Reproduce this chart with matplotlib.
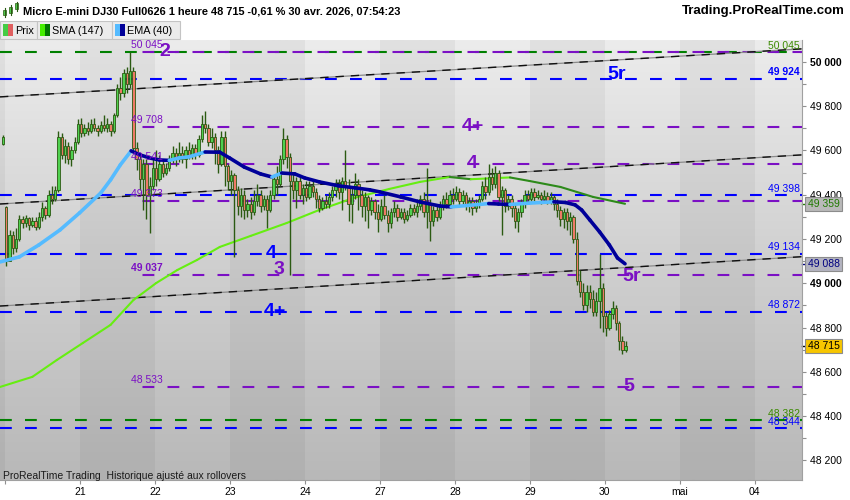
import matplotlib
matplotlib.use("Agg")
import matplotlib.pyplot as plt
import numpy as np
from matplotlib.collections import LineCollection
from matplotlib.colors import LinearSegmentedColormap
from matplotlib.patches import Rectangle
from matplotlib.transforms import blended_transform_factory

plt.rcParams["font.family"] = ["Liberation Sans", "DejaVu Sans"]
plt.rcParams["lines.scale_dashes"] = False

# ---------------------------------------------------------
# Data (1 hour bars, Micro E-mini DJ30)
# ---------------------------------------------------------

day_labels = ["20", "21", "22", "23", "24", "27", "28", "29", "30", "mai", "04"]

opens = [
    49630, 49345, 49100, 49220, 49160, 49200, 49290, 49270, 49295, 49265, 49280, 49255, 49300, 49340, 49310, 49400, 49380, 49420, 49660, 49580, 49620, 49560, 49600,
    49640, 49720, 49680, 49700, 49690, 49720, 49700, 49690, 49715, 49700, 49720, 49690, 49760, 49880, 49860, 49950, 49900, 49960, 49610, 49560, 49470, 49540, 49400,
    49440, 49520, 49470, 49540, 49500, 49520, 49560, 49590, 49560, 49590, 49560, 49600, 49575, 49610, 49580, 49650, 49720, 49700, 49640, 49660, 49600, 49540, 49660,
    49530, 49460, 49490, 49420, 49350, 49400, 49330, 49360, 49320, 49370, 49400, 49350, 49380, 49330, 49400, 49470, 49450, 49560, 49650, 49570, 49460, 49420, 49460,
    49400, 49430, 49390, 49440, 49410, 49380, 49340, 49370, 49360, 49390, 49420, 49450, 49410, 49460, 49440, 49360, 49400, 49450, 49400, 49350, 49390, 49330, 49370,
    49320, 49290, 49350, 49310, 49270, 49320, 49340, 49300, 49320, 49290, 49310, 49340, 49320, 49350, 49380, 49320, 49360, 49280, 49330, 49300, 49350, 49380, 49360,
    49400, 49380, 49410, 49370, 49400, 49350, 49370, 49340, 49360, 49380, 49440, 49410, 49480, 49450, 49500, 49390, 49420, 49350, 49380, 49340, 49280, 49320, 49360,
    49400, 49380, 49410, 49390, 49400, 49380, 49395, 49370, 49390, 49360, 49330, 49290, 49320, 49280, 49300, 49200, 49010, 48960, 48900, 48960, 48930, 48870, 48920,
    48980, 48850, 48800, 48860, 48890, 48820, 48740, 48700,
]
closes = [
    49660, 49100, 49220, 49160, 49200, 49290, 49270, 49295, 49265, 49280, 49255, 49300, 49340, 49310, 49400, 49380, 49420, 49660, 49580, 49620, 49560, 49600, 49640,
    49720, 49680, 49700, 49690, 49720, 49700, 49690, 49715, 49700, 49720, 49690, 49760, 49880, 49860, 49950, 49900, 49960, 49610, 49560, 49470, 49540, 49400, 49440,
    49520, 49470, 49540, 49500, 49520, 49560, 49590, 49560, 49590, 49560, 49600, 49575, 49610, 49580, 49650, 49720, 49700, 49640, 49660, 49600, 49540, 49660, 49530,
    49460, 49490, 49420, 49350, 49400, 49330, 49360, 49320, 49370, 49400, 49350, 49380, 49330, 49400, 49470, 49450, 49560, 49650, 49570, 49460, 49420, 49460, 49400,
    49430, 49390, 49440, 49410, 49380, 49340, 49370, 49360, 49390, 49420, 49450, 49410, 49460, 49440, 49360, 49400, 49450, 49400, 49350, 49390, 49330, 49370, 49320,
    49290, 49350, 49310, 49270, 49320, 49340, 49300, 49320, 49290, 49310, 49340, 49320, 49350, 49380, 49320, 49360, 49280, 49330, 49300, 49350, 49380, 49360, 49400,
    49380, 49410, 49370, 49400, 49350, 49370, 49340, 49360, 49380, 49440, 49410, 49480, 49450, 49500, 49390, 49420, 49350, 49380, 49340, 49280, 49320, 49360, 49400,
    49380, 49410, 49390, 49400, 49380, 49395, 49370, 49390, 49360, 49330, 49290, 49320, 49280, 49300, 49200, 49010, 48960, 48900, 48960, 48930, 48870, 48920, 48980,
    48850, 48800, 48860, 48890, 48820, 48740, 48700, 48715,
]
highs = [
    49670, 49350, 49240, 49235, 49250, 49310, 49305, 49310, 49300, 49300, 49300, 49320, 49365, 49350, 49420, 49440, 49440, 49690, 49680, 49650, 49640, 49620, 49660,
    49740, 49745, 49720, 49730, 49740, 49745, 49715, 49735, 49760, 49745, 49735, 49770, 49900, 49930, 49970, 49975, 50045, 49975, 49640, 49590, 49560, 49560, 49480,
    49560, 49600, 49580, 49560, 49545, 49580, 49620, 49610, 49640, 49620, 49620, 49640, 49630, 49630, 49670, 49760, 49780, 49720, 49700, 49680, 49620, 49690, 49690,
    49540, 49510, 49500, 49440, 49430, 49420, 49380, 49390, 49420, 49450, 49420, 49400, 49400, 49420, 49490, 49530, 49580, 49700, 49670, 49590, 49500, 49480, 49480,
    49450, 49460, 49460, 49470, 49430, 49400, 49390, 49400, 49410, 49440, 49470, 49470, 49480, 49600, 49470, 49430, 49500, 49470, 49420, 49410, 49400, 49390, 49380,
    49360, 49380, 49400, 49330, 49340, 49370, 49360, 49340, 49340, 49330, 49360, 49360, 49380, 49400, 49410, 49520, 49380, 49350, 49360, 49370, 49400, 49410, 49420,
    49430, 49440, 49430, 49420, 49410, 49390, 49390, 49380, 49400, 49460, 49480, 49540, 49520, 49530, 49510, 49440, 49430, 49400, 49400, 49360, 49340, 49380, 49420,
    49420, 49430, 49430, 49420, 49410, 49420, 49410, 49410, 49400, 49380, 49350, 49340, 49340, 49320, 49310, 49230, 49060, 49000, 48990, 48990, 48970, 48960, 49130,
    49000, 48870, 48880, 48920, 48900, 48830, 48760, 48740,
]
lows = [
    49625, 49080, 49110, 49130, 49140, 49190, 49250, 49255, 49240, 49255, 49240, 49245, 49280, 49290, 49300, 49360, 49370, 49410, 49560, 49545, 49540, 49530, 49590,
    49630, 49660, 49665, 49670, 49680, 49690, 49665, 49680, 49690, 49685, 49665, 49680, 49750, 49830, 49840, 49860, 49880, 49600, 49510, 49420, 49330, 49290, 49225,
    49420, 49440, 49460, 49480, 49490, 49505, 49545, 49530, 49550, 49545, 49520, 49560, 49560, 49560, 49570, 49640, 49680, 49620, 49610, 49540, 49500, 49530, 49440,
    49420, 49400, 49120, 49310, 49300, 49290, 49300, 49290, 49310, 49350, 49320, 49330, 49250, 49320, 49380, 49400, 49440, 49540, 49520, 49037, 49380, 49340, 49380,
    49360, 49370, 49380, 49390, 49340, 49320, 49330, 49340, 49340, 49370, 49390, 49380, 49330, 49420, 49280, 49270, 49380, 49330, 49300, 49280, 49250, 49310, 49290,
    49230, 49280, 49290, 49230, 49250, 49300, 49280, 49290, 49270, 49280, 49300, 49310, 49300, 49330, 49300, 49250, 49190, 49260, 49280, 49290, 49330, 49340, 49350,
    49360, 49370, 49350, 49360, 49330, 49320, 49310, 49320, 49340, 49370, 49380, 49400, 49420, 49430, 49370, 49220, 49320, 49330, 49300, 49250, 49230, 49300, 49340,
    49360, 49370, 49370, 49380, 49360, 49370, 49360, 49360, 49330, 49300, 49260, 49250, 49240, 49220, 49180, 48990, 48940, 48880, 48870, 48890, 48850, 48850, 48800,
    48780, 48760, 48790, 48840, 48790, 48700, 48680, 48690,
]

# moving averages (bar index, value)
ema_bars = [-1, 5, 11, 17.5, 23.5, 30, 33, 36, 39.3, 42, 45, 48, 51, 54, 57, 62, 66.5, 69.5, 74, 79, 82.5,
            85.5, 89.5, 92.5, 97, 103, 108, 112.5, 115.5, 122, 128, 134, 137.5, 143, 149, 152, 155.5, 161.5,
            169, 172.5, 175.5, 177.5, 180, 183, 186, 188.5, 190.8]
ema_vals = [49096, 49119, 49173, 49241, 49318, 49408, 49467, 49535, 49598, 49580, 49566, 49557, 49555, 49566,
            49571, 49593, 49592, 49566, 49525, 49494, 49480, 49498, 49494, 49476, 49458, 49440, 49431, 49422,
            49413, 49390, 49367, 49349, 49345, 49352, 49360, 49358, 49356, 49362, 49368, 49365, 49354, 49331,
            49286, 49232, 49173, 49114, 49088]

sma_bars = [-1, 9, 16.5, 24.5, 33, 40, 47, 53.5, 59.5, 66.5, 76, 87, 97, 107.5, 118.5, 128, 137, 143.5,
            149.5, 155.5, 161.5, 171, 181, 190.8]
sma_vals = [48531, 48577, 48653, 48730, 48812, 48924, 49001, 49060, 49105, 49164, 49214, 49272, 49331,
            49385, 49426, 49458, 49480, 49470, 49474, 49478, 49462, 49435, 49390, 49359]

# horizontal levels
purple_levels = [50045, 49708, 49541, 49373, 49037, 48533]
blue_levels = [49924, 49398, 49134, 48872, 48344]
green_levels = [50045, 48382]
purple_from_bar = 39

# channel trend lines (value at left edge, value at right edge)
channel_left = [49842, 49358, 48897]
channel_right = [50059, 49580, 49120]

# wave labels
wave_texts = ["2", "5r", "4+", "4", "4", "3", "4+", "5r", "5"]
wave_bars = [49.7, 188.3, 144.2, 143.9, 82.2, 84.7, 83.4, 192.9, 192.0]
wave_prices = [50045, 49941, 49708, 49541, 49134, 49060, 48872, 49030, 48533]
wave_kinds = ["purple", "blue", "purple", "purple", "blue", "purple", "blue", "purple", "purple"]

last_price = 48715
sma_last = 49359
ema_last = 49088

title = "Micro E-mini DJ30 Full0626 1 heure 48 715 -0,61 % 30 avr. 2026, 07:54:23"

# ---------------------------------------------------------
# Style
# ---------------------------------------------------------

PURPLE = "#7b10c4"
BLUE = "#0000ff"
GREEN = "#008000"
WICK = "#2b5a12"


def fmt(v):
    return f"{int(round(v)):,}".replace(",", " ")


W, H = 850, 500
L, R, T, B = 0, 802, 40, 480
BAR_PX = 3.26
FIRST_BAR_PX = 3
BARS_PER_DAY = 23
FIRST_DAY = 0.6

x_min = -FIRST_BAR_PX / BAR_PX
x_max = (R - FIRST_BAR_PX) / BAR_PX
y_min, y_max = 48111, 50099

fig = plt.figure(figsize=(W / 100, H / 100), dpi=100)
fig.patch.set_facecolor("white")

ax = fig.add_axes([L / W, 1 - B / H, (R - L) / W, (B - T) / H])
ax.set_xlim(x_min, x_max)
ax.set_ylim(y_min, y_max)

# background gradient and day bands
grad = np.linspace(0, 1, 256).reshape(-1, 1)
cmap = LinearSegmentedColormap.from_list("bg", ["#b8b8b8", "#d0d0d0", "#ececec"])
ax.imshow(grad, extent=[x_min, x_max, y_min, y_max], origin="lower",
          aspect="auto", cmap=cmap, zorder=0)

day_starts = FIRST_DAY + BARS_PER_DAY * np.arange(len(day_labels))
edges = [x_min] + list(day_starts) + [x_max]
for j in range(len(edges) - 1):
    if j % 2 == 0:
        ax.axvspan(edges[j], edges[j + 1], color="black", alpha=0.045, lw=0, zorder=0.5)

trans = blended_transform_factory(ax.transAxes, ax.transData)

# levels
dash = (0, (8.5, 9.5))
for lv in green_levels:
    ax.axhline(lv, color=GREEN, lw=1.5, linestyle=dash, zorder=1.5)
for lv in blue_levels:
    ax.axhline(lv, color=BLUE, lw=1.5, linestyle=dash, zorder=1.5)
for lv in purple_levels:
    ax.plot([purple_from_bar, x_max], [lv, lv], color=PURPLE, lw=1.5,
            linestyle=(9, (8.5, 9.5)), zorder=1.6)
    ax.text(purple_from_bar + 0.2, lv + 8, fmt(lv), color=PURPLE, fontsize=7.5,
            ha="left", va="bottom", zorder=6,
            fontweight="bold" if lv == 49037 else "normal")

for lv in green_levels:
    ax.text(0.997, lv + 6, fmt(lv), transform=trans, color="#3a8a00",
            fontsize=7.5, ha="right", va="bottom", zorder=6)
for lv in blue_levels:
    ax.text(0.997, lv + 6, fmt(lv), transform=trans, color=BLUE,
            fontsize=7.5, ha="right", va="bottom", zorder=6,
            fontweight="bold" if lv == 49924 else "normal")

# channel
for y0, y1 in zip(channel_left, channel_right):
    ax.plot([x_min, x_max], [y0, y1], color="#8a8a8a", lw=0.9, zorder=1.7)
    ax.plot([x_min, x_max], [y0, y1], color="#111111", lw=1.0,
            linestyle=(0, (6, 5)), zorder=1.8)

# SMA (147)
pts = np.column_stack([sma_bars, sma_vals])
segs = np.stack([pts[:-1], pts[1:]], axis=1)
cols = ["#66ee11" if b >= a else "#2d8a1a" for a, b in zip(sma_vals[:-1], sma_vals[1:])]
ax.add_collection(LineCollection(segs, colors=cols, linewidths=1.5, zorder=2.5,
                                 capstyle="round"))

# candles
for i, (o, h, l, c) in enumerate(zip(opens, highs, lows, closes)):
    ax.vlines(i, l, h, color=WICK, lw=1.0, zorder=3)
    bottom = min(o, c)
    height = max(abs(c - o), 6)
    ax.bar(i, height, bottom=bottom, width=0.72,
           color="#4fd14f" if c >= o else "#ee7a66",
           edgecolor=WICK, linewidth=0.6, zorder=4)

# EMA (40)
pts = np.column_stack([ema_bars, ema_vals])
segs = np.stack([pts[:-1], pts[1:]], axis=1)
cols = ["#55bbff" if b >= a else "#000099" for a, b in zip(ema_vals[:-1], ema_vals[1:])]
ax.add_collection(LineCollection(segs, colors=cols, linewidths=2.6, zorder=5,
                                 capstyle="round"))

# wave labels
for txt, xb, yp, kind in zip(wave_texts, wave_bars, wave_prices, wave_kinds):
    ax.text(xb, yp, txt, color=PURPLE if kind == "purple" else BLUE,
            fontsize=14, fontweight="bold", ha="center", va="center", zorder=7)

# axes
for side in ["top", "left"]:
    ax.spines[side].set_visible(False)
for side in ["right", "bottom"]:
    ax.spines[side].set_color("#a0a0a0")

ax.yaxis.tick_right()
ticks = np.arange(48200, 50001, 100)
ax.set_yticks(ticks)
ax.set_yticklabels([fmt(t) if t % 200 == 0 else "" for t in ticks])
for t, lab in zip(ticks, ax.get_yticklabels()):
    if t % 1000 == 0:
        lab.set_fontweight("bold")
ax.tick_params(axis="y", direction="out", length=3, color="#909090", pad=3,
               labelsize=7.5, labelcolor="black")

ax.set_xticks(day_starts)
ax.set_xticklabels([""] + day_labels[1:])
ax.tick_params(axis="x", direction="out", length=3, color="#909090", pad=2,
               labelsize=7.5, labelcolor="black")

# price boxes on the right axis
for val, fg, bg in [(sma_last, "#1e7a00", "#b9b9b9"), (ema_last, "#000080", "#b4b4c0"),
                    (last_price, "black", "#f7c600")]:
    ax.plot([1.0, 1.006], [val, val], transform=trans, color=fg, lw=1, clip_on=False)
    ax.annotate(fmt(val), xy=(1.0, val), xycoords=trans, xytext=(4, 0),
                textcoords="offset points", ha="left", va="center", fontsize=7.5,
                color=fg, annotation_clip=False, zorder=8,
                bbox=dict(boxstyle="square,pad=0.2", fc=bg, ec="#8c8c8c", lw=0.8))

# ---------------------------------------------------------
# Header / footer overlay (pixel coordinates)
# ---------------------------------------------------------

ov = fig.add_axes([0, 0, 1, 1], zorder=10)
ov.set_xlim(0, W)
ov.set_ylim(H, 0)
ov.axis("off")

# small candle icon
for cx, b0, b1, w0, w1 in [(5, 10, 15, 8, 17), (11, 7, 13, 5, 15), (17, 3, 9, 2, 11)]:
    ov.plot([cx, cx], [w0, w1], color=WICK, lw=0.8)
    ov.add_patch(Rectangle((cx - 1.5, b0), 3, b1 - b0, fc="#4fd14f", ec=WICK, lw=0.5))

ov.text(23, 11, title, fontsize=7.9, fontweight="bold", va="center", ha="left")
ov.text(845, 11, "Trading.ProRealTime.com", fontsize=9.5, fontweight="bold",
        va="center", ha="right")

legend_items = ["Prix", "SMA (147)", "EMA (40)"]
legend_x = [0, 37, 112, 180]
legend_icons = [("#44cc44", "#e06060"), ("#44ee00", "#007700"), ("#55bbff", "#000099")]
for k, name in enumerate(legend_items):
    x0, x1 = legend_x[k], legend_x[k + 1]
    ov.add_patch(Rectangle((x0, 21), x1 - x0, 18, fc="#ebebeb", ec="#c4c4c4", lw=0.8))
    c0, c1 = legend_icons[k]
    ov.add_patch(Rectangle((x0 + 3, 24), 5, 12, fc=c0, ec="none"))
    ov.add_patch(Rectangle((x0 + 8, 24), 5, 12, fc=c1, ec="none"))
    ov.text(x0 + 15, 30.5, name, fontsize=7.8, va="center", ha="left")

ov.text(3, 476, "ProRealTime Trading  Historique ajusté aux rollovers",
        fontsize=7.5, va="center", ha="left", color="#1a1a1a")

fig.savefig("out.png", dpi=100)
